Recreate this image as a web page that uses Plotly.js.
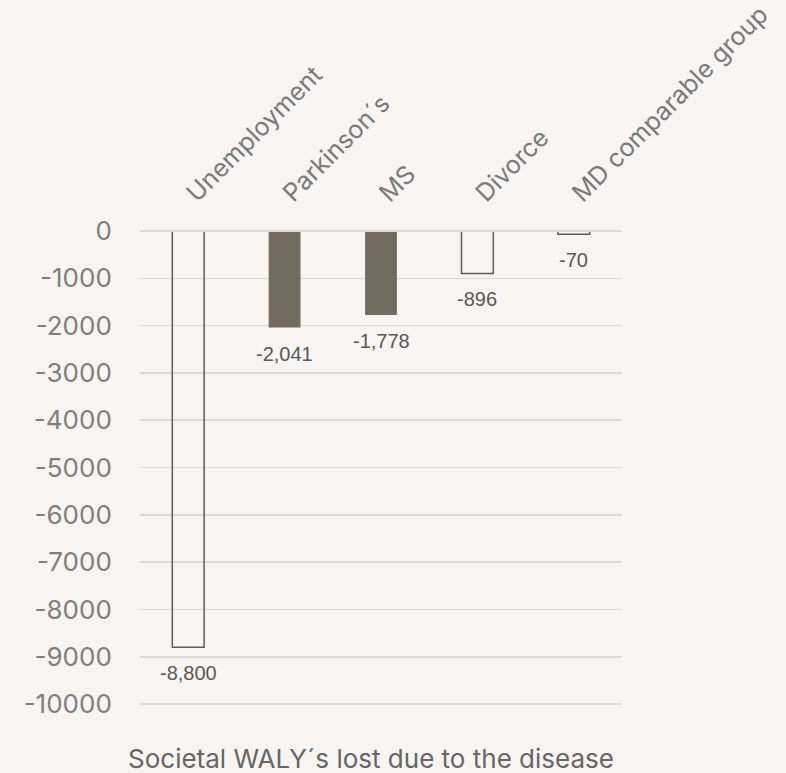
<!DOCTYPE html>
<html>
<head>
<meta charset="utf-8">
<script src="https://cdn.plot.ly/plotly-3.0.1.min.js"></script>
<style>
  html, body { margin: 0; padding: 0; background: #f7f4f1; }
  #chart { width: 786px; height: 773px; }
</style>
</head>
<body>
<div id="chart"></div>
<script>
// Data
const categories = ["Unemployment", "Parkinson\u00b4s", "MS", "Divorce", "MD comparable group"];
const values = [-8800, -2041, -1778, -896, -70];
const filledFlags = [false, true, true, false, false];
const yTickVals = [0, -1000, -2000, -3000, -4000, -5000, -6000, -7000, -8000, -9000, -10000];
const yTickText = ["0", "-1000", "-2000", "-3000", "-4000", "-5000", "-6000", "-7000", "-8000", "-9000", "-10000"];
const axisTitle = "Societal WALY\u00b4s lost due to the disease";

const bg = "#f7f4f1";
const fillColor = "#736b60";
const lineColor = "#5e5e5e";
const gridColor = "#dcdada";
const tickFont = "Inter, 'DejaVu Sans', sans-serif";

const trace = {
  type: "bar",
  x: categories,
  y: values,
  marker: {
    color: filledFlags.map(f => f ? fillColor : "rgba(0,0,0,0)"),
    line: {
      color: filledFlags.map(f => f ? fillColor : lineColor),
      width: filledFlags.map(f => f ? 0 : 1.5)
    }
  },
  hoverinfo: "x+y"
};

const annotations = categories.map((c, i) => ({
  x: c,
  y: values[i],
  xref: "x",
  yref: "y",
  text: values[i].toLocaleString("en-US"),
  showarrow: false,
  yanchor: "top",
  xanchor: "center",
  yshift: -13,
  font: { family: "'Liberation Sans', Arial, sans-serif", size: 20, color: "#595959" }
}));

annotations.push({
  text: axisTitle,
  xref: "paper",
  yref: "paper",
  x: 0.48,
  y: -0.074,
  xanchor: "center",
  yanchor: "top",
  showarrow: false,
  font: { family: tickFont, size: 26, color: "#666666" }
});

const layout = {
  width: 786,
  height: 773,
  paper_bgcolor: bg,
  plot_bgcolor: bg,
  margin: { l: 140, r: 164, t: 231, b: 67 },
  showlegend: false,
  bargap: 0.67,
  xaxis: {
    side: "top",
    tickangle: -45,
    showgrid: false,
    showline: false,
    zeroline: false,
    ticks: "outside",
    ticklen: 13,
    tickcolor: "rgba(0,0,0,0)",
    tickfont: { family: tickFont, size: 25, color: "#7a7a7a" }
  },
  yaxis: {
    range: [-10040, 0],
    tickvals: yTickVals,
    ticktext: yTickText,
    showgrid: true,
    gridcolor: gridColor,
    gridwidth: 1.5,
    zeroline: true,
    zerolinecolor: gridColor,
    zerolinewidth: 1.5,
    showline: false,
    ticks: "outside",
    ticklen: 22,
    tickcolor: "rgba(0,0,0,0)",
    tickfont: { family: tickFont, size: 26, color: "#7f7f7f" }
  },
  shapes: [{
    type: "line",
    xref: "paper",
    yref: "y",
    x0: 0,
    x1: 1,
    y0: yTickVals[0],
    y1: yTickVals[0],
    layer: "above",
    line: { color: gridColor, width: 2 }
  }],
  annotations: annotations
};

Plotly.newPlot("chart", [trace], layout, { displayModeBar: false, staticPlot: true });
</script>
</body>
</html>
